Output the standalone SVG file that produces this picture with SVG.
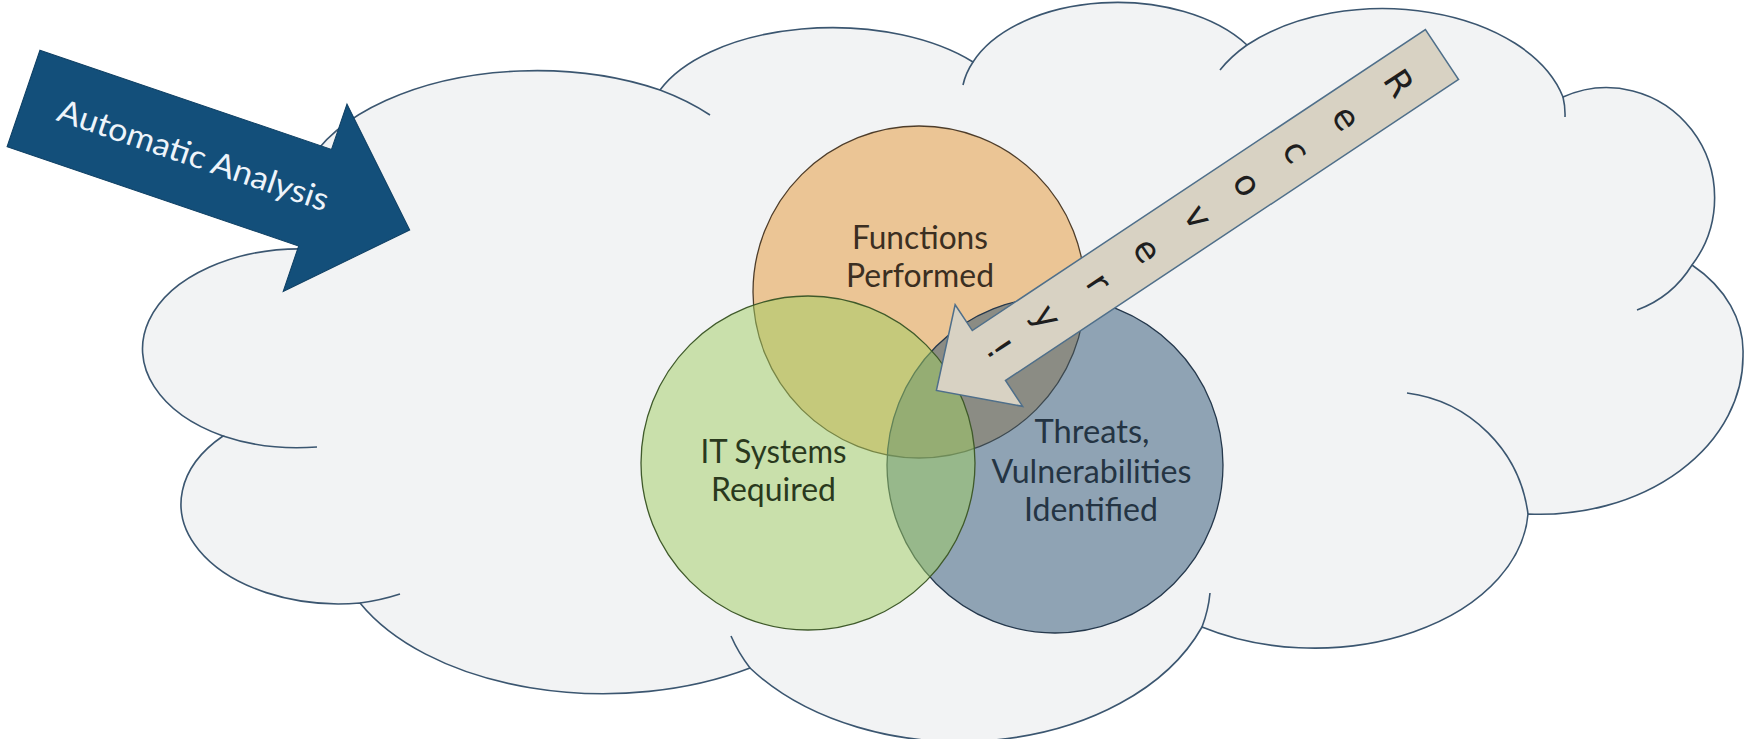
<svg xmlns="http://www.w3.org/2000/svg" width="1745" height="739" viewBox="0 0 1745 739">
  <style>
    .cloud { fill: #f2f3f4; stroke: #3b5670; stroke-width: 1.6; }
    .seam { fill: none; stroke: #3b5670; stroke-width: 1.6; }
    .lbl { font-family: Lato, "Open Sans", "Liberation Sans", sans-serif; font-size: 32px; text-anchor: middle; }
    .rec { font-family: "DejaVu Sans", "Liberation Sans", sans-serif; font-size: 35px; fill: #1e1e1e; text-anchor: middle; dominant-baseline: central; }
  </style>
  <rect width="1745" height="739" fill="#ffffff"/>

  <!-- cloud outline built from elliptical lobes, plus the short seam arcs inside -->
  <g id="cloud">
    <path class="cloud" d="M309 249 A240 135 0 0 1 660 90 A185 98 0 0 1 973 62 A155 94 0 0 1 1247 45 A186 116 0 0 1 1563 97 A108 110 0 0 1 1692 265 A150 115 0 0 1 1743 355 A203 158 0 0 1 1528 514 A214 142 0 0 1 1202 627 A260 180 0 0 1 750 668 A270 160 0 0 1 360 603 A158 100 0 0 1 223 436 A158 100 0 0 1 309 249 Z"/>
    <path class="seam" d="M660 90 A240 135 0 0 1 710 115 M973 62 A155 94 0 0 0 963 85 M1247 45 A186 116 0 0 0 1220 70 M1563 97 A186 116 0 0 1 1565 117 M1692 265 A108 110 0 0 1 1637 310 M1528 514 A140 140 0 0 0 1407 393 M1202 627 A260 180 0 0 0 1210 593 M750 668 A260 180 0 0 1 731 636 M360 603 A158 100 0 0 0 400 594 M223 436 A158 100 0 0 0 317 447"/>
  </g>

  <!-- Venn circles, translucent so the overlaps blend -->
  <g id="node-functions">
    <circle cx="919" cy="292" r="166" fill="#e49736" fill-opacity="0.5" stroke="#4e3d2a" stroke-width="1.3"/>
    <text class="lbl" fill="#3b2f22" x="920" y="249" textLength="136" lengthAdjust="spacingAndGlyphs">Functions</text>
    <text class="lbl" fill="#3b2f22" x="920" y="287" textLength="148" lengthAdjust="spacingAndGlyphs">Performed</text>
  </g>
  <g id="node-threats">
    <circle cx="1055" cy="465" r="168" fill="#2c5374" fill-opacity="0.5" stroke="#25384c" stroke-width="1.3"/>
    <text class="lbl" fill="#243443" x="1092" y="443" textLength="115" lengthAdjust="spacingAndGlyphs">Threats,</text>
    <text class="lbl" fill="#243443" x="1091.5" y="483" textLength="200" lengthAdjust="spacingAndGlyphs">Vulnerabilities</text>
    <text class="lbl" fill="#243443" x="1091" y="521" textLength="134" lengthAdjust="spacingAndGlyphs">Identified</text>
  </g>
  <g id="node-systems">
    <circle cx="808" cy="463" r="167" fill="#a0cd62" fill-opacity="0.5" stroke="#3f5a2a" stroke-width="1.3"/>
    <text class="lbl" fill="#2a391d" x="773.5" y="463" textLength="146" lengthAdjust="spacingAndGlyphs">IT Systems</text>
    <text class="lbl" fill="#2a391d" x="773.5" y="501" textLength="125" lengthAdjust="spacingAndGlyphs">Required</text>
  </g>

  <!-- block arrows -->
  <g id="connectors">
    <g id="recovery" transform="translate(1442 54.5) rotate(146.4)">
      <path d="M0 -30 L544 -30 L544 -61 L607 0 L544 61 L544 30 L0 30 Z" fill="#d8d2c3" stroke="#4f6f8a" stroke-width="1.5"/>
      <text class="rec" transform="translate(52 0) rotate(-90)">R</text>
      <text class="rec" transform="translate(115 0) rotate(-90)">e</text>
      <text class="rec" transform="translate(175 0) rotate(-90)">c</text>
      <text class="rec" transform="translate(234 0) rotate(-90)">o</text>
      <text class="rec" transform="translate(293 0) rotate(-90)">v</text>
      <text class="rec" transform="translate(354 0) rotate(-90)">e</text>
      <text class="rec" transform="translate(412 0) rotate(-90)">r</text>
      <text class="rec" transform="translate(474 0) rotate(-90)">y</text>
      <text class="rec" transform="translate(532 0) rotate(-90)">!</text>
    </g>
    <g id="automatic-analysis" transform="translate(23.5 98.5) rotate(18.8)">
      <path d="M0 -51 L308 -51 L308 -99 L408 0 L308 99 L308 51 L0 51 Z" fill="#134f7a" stroke="#0e3f63" stroke-width="1"/>
      <text class="lbl" fill="#eef4fa" x="179" y="10" font-size="34" textLength="284" lengthAdjust="spacingAndGlyphs">Automatic Analysis</text>
    </g>
  </g>
</svg>
